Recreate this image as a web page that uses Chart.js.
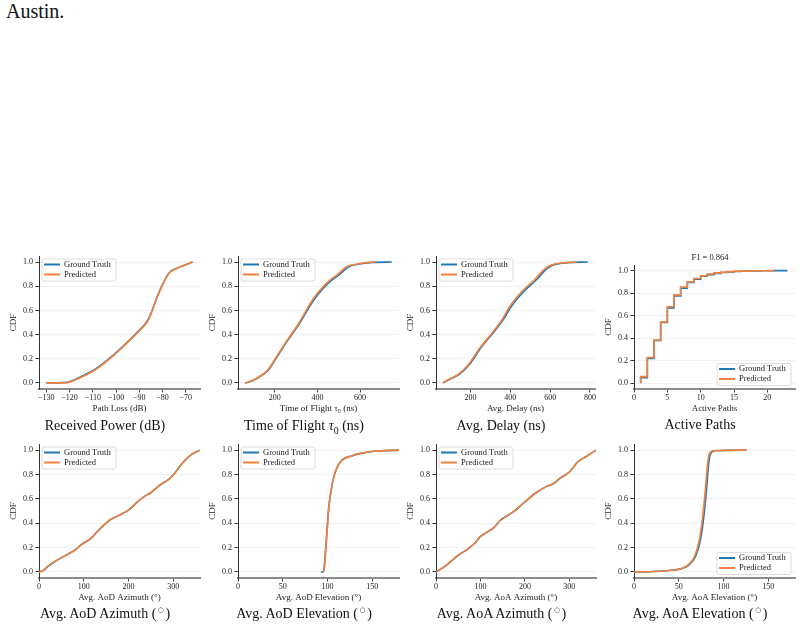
<!DOCTYPE html>
<html>
<head>
<meta charset="utf-8">
<script src="https://cdn.jsdelivr.net/npm/chart.js@4.4.1/dist/chart.umd.min.js"></script>
<style>
  body { margin: 0; width: 802px; height: 628px; background: #fff; position: relative; overflow: hidden; font-family: "Liberation Serif", "Times New Roman", serif; color: #111; }
  #caption { position: absolute; left: 6px; top: 1px; font-size: 20px; line-height: 20px; }
  canvas { position: absolute; }
  .ptitle { position: absolute; width: 220px; text-align: center; font-size: 14px; line-height: 16px; white-space: nowrap; }
  .ptitle sub { font-size: 0.7em; line-height: 0; }
  .ptitle sup { font-size: 0.5em; line-height: 0; margin: 0 1.5px; font-family: "DejaVu Sans", sans-serif; vertical-align: 0.9em; }
  .f1 { position: absolute; width: 80px; text-align: center; font-size: 8.5px; line-height: 10px; color: #222; }
</style>
</head>
<body>
<div id="caption">Austin.</div>
<script>
// shared tick values
const cdfTicks = [0, 0.2, 0.4, 0.6, 0.8, 1.0];
const powerTicks = [-130, -120, -110, -100, -90, -80, -70];
const tofTicks = [200, 400, 600];
const delayTicks = [200, 400, 600, 800];
const pathTicks = [0, 5, 10, 15, 20];
const azimuthTicks = [0, 100, 200, 300];
const elevationTicks = [0, 50, 100, 150];

// Received power: CDF levels and the path loss (dB) where each is reached
const powerCdf = [0, 0.005, 0.011, 0.047, 0.088, 0.142, 0.23, 0.307, 0.416, 0.51, 0.567, 0.718, 0.84, 0.91, 0.95, 0.978, 1.0];
const powerGt = [-130, -121, -119.8, -115.6, -111.3, -106.9, -101.2, -96.8, -91.0, -86.6, -85.1, -82.2, -79.3, -77.2, -73.6, -70.0, -67.0];
const powerPred = [-130, -120.3, -119.3, -115.0, -110.8, -106.5, -100.9, -96.6, -90.8, -86.4, -85.0, -82.1, -79.2, -77.1, -73.5, -70.0, -67.2];

// Time of flight (ns)
const tofCdf = [0, 0.02, 0.07, 0.106, 0.195, 0.34, 0.50, 0.64, 0.735, 0.84, 0.90, 0.96, 0.986, 0.997, 1.0];
const tofGt = [62, 98, 145, 170, 203, 256, 319, 366, 404, 460, 506, 546, 605, 660, 748];
const tofPred = [60, 96, 143, 167, 200, 253, 315, 360, 397, 452, 497, 535, 595, 640, 672];

// Avg. delay (ns)
const delayCdf = [0, 0.033, 0.068, 0.117, 0.17, 0.286, 0.42, 0.53, 0.63, 0.76, 0.86, 0.94, 0.975, 0.995, 1.0];
const delayGt = [63, 98, 140, 174, 203, 250, 317, 367, 404, 470, 535, 580, 615, 690, 789];
const delayPred = [60, 95, 136, 170, 198, 245, 312, 361, 396, 460, 525, 570, 605, 680, 735];

// Active paths (step CDF)
const pathCounts = [1, 2, 3, 4, 5, 6, 7, 8, 9, 10, 11, 12, 13, 14, 15, 16, 17, 18, 19, 20, 21, 22, 23];
const pathsGt = [0.05, 0.22, 0.38, 0.54, 0.67, 0.775, 0.845, 0.895, 0.925, 0.95, 0.965, 0.975, 0.983, 0.989, 0.993, 0.995, 0.997, 0.998, 0.999, 0.9995, 1.0, 1.0, 1.0];
const pathsPred = [0.06, 0.23, 0.385, 0.545, 0.68, 0.785, 0.855, 0.90, 0.93, 0.955, 0.97, 0.98, 0.986, 0.991, 0.994, 0.996, 0.998, 0.999, 0.9995, 1.0, 1.0];
const f1Score = 0.864;

// Avg. AoD azimuth (deg)
const aodAzX = [0, 10, 20, 40, 60, 80, 90, 100, 110, 120, 130, 150, 160, 180, 200, 220, 240, 250, 270, 290, 300, 320, 340, 360];
const aodAzGt = [0, 0.013, 0.046, 0.095, 0.136, 0.178, 0.21, 0.237, 0.259, 0.287, 0.33, 0.40, 0.43, 0.466, 0.507, 0.574, 0.63, 0.65, 0.712, 0.76, 0.795, 0.89, 0.96, 1.0];
const aodAzPred = [0, 0.014, 0.047, 0.096, 0.137, 0.178, 0.21, 0.238, 0.26, 0.288, 0.33, 0.40, 0.43, 0.466, 0.507, 0.575, 0.63, 0.65, 0.712, 0.76, 0.795, 0.89, 0.96, 1.0];

// Avg. AoD elevation (deg)
const aodElCdf = [0, 0, 0.04, 0.15, 0.34, 0.53, 0.67, 0.78, 0.86, 0.92, 0.95, 0.973, 0.99, 1.0];
const aodElGt = [93, 95.2, 96.4, 97.6, 99.5, 101.4, 104.1, 107.1, 110.9, 116.5, 126, 137, 152, 180];
const aodElPred = [95.1, 95.3, 96.7, 97.8, 99.7, 101.6, 104.2, 107.2, 111, 116.6, 126, 137, 152, 180];

// Avg. AoA azimuth (deg)
const aoaAzX = [0, 20, 50, 72, 90, 98.5, 117, 132, 143, 173, 200, 225, 248, 266, 278, 300, 319, 337, 360];
const aoaAzGt = [0, 0.046, 0.136, 0.19, 0.245, 0.286, 0.33, 0.37, 0.418, 0.49, 0.574, 0.65, 0.70, 0.728, 0.766, 0.82, 0.904, 0.945, 1.0];
const aoaAzPred = [0, 0.047, 0.137, 0.19, 0.247, 0.288, 0.33, 0.37, 0.42, 0.49, 0.575, 0.65, 0.70, 0.73, 0.767, 0.82, 0.904, 0.945, 1.0];

// Avg. AoA elevation (deg)
const aoaElCdf = [0, 0.003, 0.014, 0.027, 0.055, 0.123, 0.26, 0.45, 0.67, 0.89, 0.97, 0.995, 1.0];
const aoaElGt = [0, 23, 42, 53.5, 61, 68.5, 74.2, 78, 81, 83.5, 85.5, 91, 125.7];
const aoaElPred = [0, 23, 42, 53, 60, 67.5, 73, 76.7, 79.7, 82.3, 84.2, 89, 125.7];

const blue = '#1f77b4';
const orange = '#f5813a';

Chart.defaults.font.family = '"Liberation Serif", "Times New Roman", serif';
Chart.defaults.color = '#222';

function quantilePoints(xs, levels) {
    return xs.map((x, i) => ({ x: x, y: levels[i] }));
}

function stepPoints(xs, vals) {
    // start from zero at the first count, then hold each value until the next count
    return [{ x: xs[0], y: 0 }].concat(vals.map((v, i) => ({ x: xs[i], y: v })));
}

function minusSign(v) {
    return v < 0 ? '\u2212' + Math.abs(v) : String(v);
}

// matplotlib-like framed legend inside the axes
const boxLegend = {
    id: 'boxLegend',
    afterDatasetsDraw(chart, args, opts) {
        const { ctx, chartArea: a } = chart;
        const w = 74, h = 22;
        const x = opts.corner === 'br' ? a.right - w - 4 : a.left + 3;
        const y = opts.corner === 'br' ? a.bottom - h - 3.5 : a.top + 3;
        ctx.save();
        ctx.beginPath();
        ctx.roundRect(x, y, w, h, 2);
        ctx.fillStyle = 'rgba(255,255,255,0.85)';
        ctx.fill();
        ctx.strokeStyle = '#d4d4d4';
        ctx.lineWidth = 0.8;
        ctx.stroke();
        ctx.font = '8.5px "Liberation Serif"';
        ctx.textBaseline = 'middle';
        chart.data.datasets.forEach((ds, i) => {
            const ly = y + 5.5 + i * 10;
            ctx.strokeStyle = ds.borderColor;
            ctx.lineWidth = 2;
            ctx.beginPath();
            ctx.moveTo(x + 2, ly);
            ctx.lineTo(x + 18, ly);
            ctx.stroke();
            ctx.fillStyle = '#222';
            ctx.fillText(ds.label, x + 22, ly);
        });
        ctx.restore();
    }
};

const panels = [
    { left: 39, width: 161, top: 256, bottom: 389, xMin: -133.15, xMax: -63.85, xTicks: powerTicks,
      xLabel: 'Path Loss (dB)', title: 'Received Power (dB)', titleY: 418, legend: 'tl',
      gt: quantilePoints(powerGt, powerCdf), pred: quantilePoints(powerPred, powerCdf) },
    { left: 238, width: 161, top: 256, bottom: 389, xMin: 27.7, xMax: 782.3, xTicks: tofTicks,
      xLabel: 'Time of Flight \u03c4\u2080 (ns)', title: 'Time of Flight <i>\u03c4</i><sub>0</sub> (ns)', titleY: 418, legend: 'tl',
      gt: quantilePoints(tofGt, tofCdf), pred: quantilePoints(tofPred, tofCdf) },
    { left: 436, width: 159, top: 256, bottom: 389, xMin: 26.7, xMax: 825.3, xTicks: delayTicks,
      xLabel: 'Avg. Delay (ns)', title: 'Avg. Delay (ns)', titleY: 418, legend: 'tl',
      gt: quantilePoints(delayGt, delayCdf), pred: quantilePoints(delayPred, delayCdf) },
    { left: 634, width: 161, top: 265, bottom: 389, xMin: 0, xMax: 24.15, xTicks: pathTicks,
      xLabel: 'Active Paths', title: 'Active Paths', titleY: 417, legend: 'br', stepped: true,
      gt: stepPoints(pathCounts, pathsGt), pred: stepPoints(pathCounts, pathsPred) },
    { left: 39, width: 161, top: 444, bottom: 578, xMin: 0, xMax: 360, xTicks: azimuthTicks,
      xLabel: 'Avg. AoD Azimuth (\u00b0)', title: 'Avg. AoD Azimuth (<sup>\u25cb</sup>)', titleY: 606, legend: 'tl',
      gt: quantilePoints(aodAzX, aodAzGt), pred: quantilePoints(aodAzX, aodAzPred) },
    { left: 238, width: 161, top: 444, bottom: 578, xMin: 0, xMax: 180, xTicks: elevationTicks,
      xLabel: 'Avg. AoD Elevation (\u00b0)', title: 'Avg. AoD Elevation (<sup>\u25cb</sup>)', titleY: 606, legend: 'tl',
      gt: quantilePoints(aodElGt, aodElCdf), pred: quantilePoints(aodElPred, aodElCdf) },
    { left: 436, width: 160, top: 444, bottom: 578, xMin: 0, xMax: 360, xTicks: azimuthTicks,
      xLabel: 'Avg. AoA Azimuth (\u00b0)', title: 'Avg. AoA Azimuth (<sup>\u25cb</sup>)', titleY: 606, legend: 'tl',
      gt: quantilePoints(aoaAzX, aoaAzGt), pred: quantilePoints(aoaAzX, aoaAzPred) },
    { left: 634, width: 161, top: 444, bottom: 578, xMin: 0, xMax: 180, xTicks: elevationTicks,
      xLabel: 'Avg. AoA Elevation (\u00b0)', title: 'Avg. AoA Elevation (<sup>\u25cb</sup>)', titleY: 606, legend: 'br',
      gt: quantilePoints(aoaElGt, aoaElCdf), pred: quantilePoints(aoaElPred, aoaElCdf) }
];

function drawPanel(p) {
    const padTop = 10, padRight = 6, yAxisW = 40, xAxisH = 30;
    const canvas = document.createElement('canvas');
    const cw = yAxisW + p.width + padRight;
    const ch = padTop + (p.bottom - p.top) + xAxisH;
    canvas.width = cw;
    canvas.height = ch;
    canvas.style.left = (p.left - yAxisW) + 'px';
    canvas.style.top = (p.top - padTop) + 'px';
    canvas.style.width = cw + 'px';
    canvas.style.height = ch + 'px';
    document.body.appendChild(canvas);

    const lineStyle = {
        borderWidth: 1.6,
        pointRadius: 0,
        fill: false,
        stepped: p.stepped ? true : false,
        cubicInterpolationMode: p.stepped ? 'default' : 'monotone'
    };

    new Chart(canvas, {
        type: 'line',
        data: {
            datasets: [
                // predicted is drawn over the ground truth, as in the original
                Object.assign({ label: 'Ground Truth', data: p.gt, borderColor: blue, order: 1 }, lineStyle),
                Object.assign({ label: 'Predicted', data: p.pred, borderColor: orange, order: 0 }, lineStyle)
            ]
        },
        options: {
            responsive: false,
            animation: false,
            devicePixelRatio: 1,
            events: [],
            layout: { padding: { top: padTop, right: padRight, left: 0, bottom: 0 } },
            plugins: {
                legend: { display: false },
                tooltip: { enabled: false },
                boxLegend: { corner: p.legend }
            },
            scales: {
                x: {
                    type: 'linear',
                    min: p.xMin,
                    max: p.xMax,
                    afterBuildTicks: s => { s.ticks = p.xTicks.map(v => ({ value: v })); },
                    afterFit: s => { s.height = xAxisH; s.paddingLeft = 0; s.paddingRight = 0; },
                    grid: { drawOnChartArea: false, drawTicks: true, tickLength: 3.5, tickColor: '#444', tickWidth: 1 },
                    border: { display: true, color: '#8c8c8c', width: 2 },
                    ticks: { font: { size: 8 }, color: '#222', padding: 0.5, maxRotation: 0, autoSkip: false, callback: v => minusSign(v) },
                    title: { display: true, text: p.xLabel, font: { size: 9 }, color: '#222', padding: { top: 0, bottom: 4.5 } }
                },
                y: {
                    min: -0.05,
                    max: 1.05,
                    afterBuildTicks: s => { s.ticks = cdfTicks.map(v => ({ value: v })); },
                    afterFit: s => { s.width = yAxisW; s.paddingTop = 0; s.paddingBottom = 0; },
                    grid: { color: 'rgba(0,0,0,0.07)', lineWidth: 0.8, tickLength: 3.5, tickColor: '#333', tickWidth: 1 },
                    border: { display: true, color: '#333', width: 1 },
                    ticks: { font: { size: 8 }, color: '#222', padding: 2.5, callback: v => v.toFixed(1) },
                    title: { display: true, text: 'CDF', font: { size: 9 }, color: '#222', padding: { top: 9.5, bottom: 0 } }
                }
            }
        },
        plugins: [boxLegend]
    });

    const t = document.createElement('div');
    t.className = 'ptitle';
    t.innerHTML = p.title;
    t.style.left = (p.left + p.width / 2 - 14.5 - 110) + 'px';
    t.style.top = p.titleY + 'px';
    document.body.appendChild(t);
}

panels.forEach(drawPanel);

// F1 score above the active paths panel
const f1 = document.createElement('div');
f1.className = 'f1';
f1.textContent = 'F1 = ' + f1Score.toFixed(3);
f1.style.left = (710 - 40) + 'px';
f1.style.top = '252px';
document.body.appendChild(f1);
</script>
</body>
</html>
